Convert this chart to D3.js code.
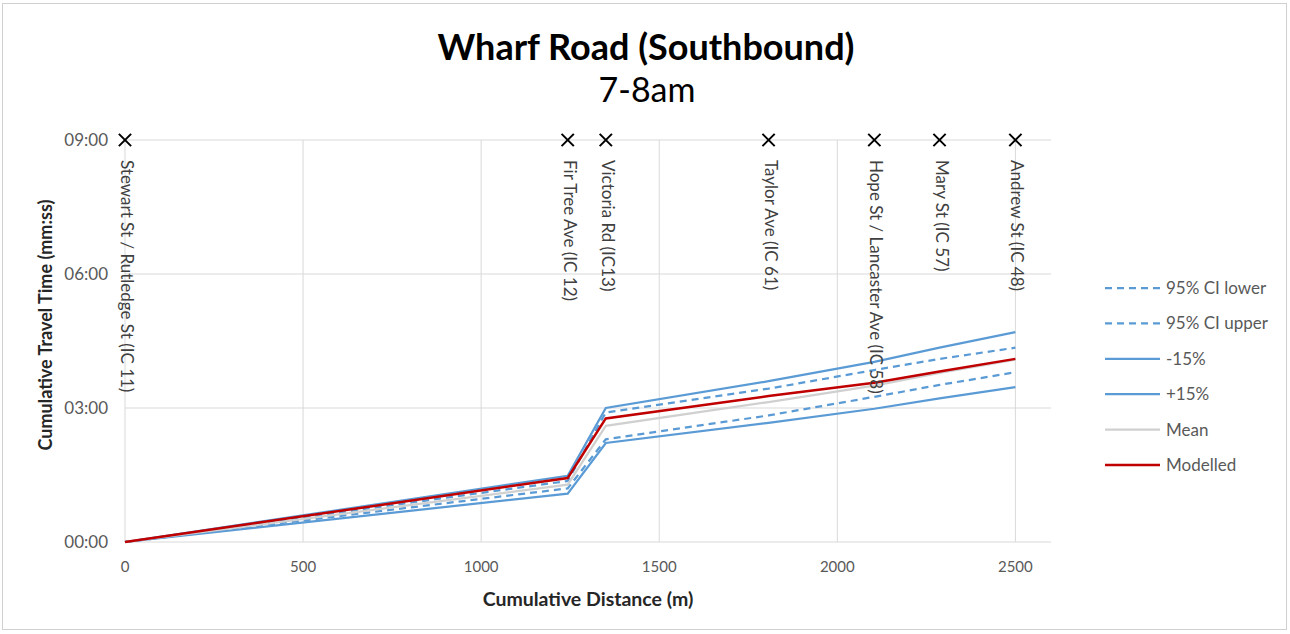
<!DOCTYPE html>
<html>
<head>
    <title>Wharf Road (Southbound) 7-8am</title>
    <script src="https://d3js.org/d3.v7.min.js"></script>
    <style>
        body { margin: 0; background: #fff; }
        svg text { font-family: Lato, "Open Sans", sans-serif; }
        .grid line { stroke: #d9d9d9; stroke-width: 1; }
        .tick-label { fill: #595959; }
        .axis-title { fill: #262626; font-weight: bold; }
        .junction { fill: #404040; font-size: 17px; }
        .legend text { fill: #595959; font-size: 17px; }
    </style>
</head>
<body>
<div id="chart"></div>
<script>
    // chart data (times in seconds)
    const junctions = [
        "Stewart St / Rutledge St (IC 11)",
        "Fir Tree Ave (IC 12)",
        "Victoria Rd (IC13)",
        "Taylor Ave (IC 61)",
        "Hope St / Lancaster Ave (IC 58)",
        "Mary St (IC 57)",
        "Andrew St (IC 48)"
    ];
    const distance = [0, 1243, 1350, 1807, 2104, 2287, 2500];
    const ciLower  = [0, 72, 138, 170, 195, 211, 228];
    const ciUpper  = [0, 82, 174, 206, 231, 246, 261];
    const minus15  = [0, 65, 133, 160, 179, 193, 208];
    const plus15   = [0, 89, 180, 216, 242, 261, 282];
    const mean     = [0, 77, 156, 188, 210, 227, 245];
    const modelled = [0, 86, 166, 196, 214, 229, 246];

    const xTicks = [0, 500, 1000, 1500, 2000, 2500];
    const yTicks = [0, 180, 360, 540];

    const series = [
        { name: "95% CI lower", values: ciLower, color: "#5b9bd5", dash: "7,5", width: 2.25 },
        { name: "95% CI upper", values: ciUpper, color: "#5b9bd5", dash: "7,5", width: 2.25 },
        { name: "-15%", values: minus15, color: "#5b9bd5", dash: null, width: 2.25 },
        { name: "+15%", values: plus15, color: "#5b9bd5", dash: null, width: 2.25 },
        { name: "Mean", values: mean, color: "#d0d0d0", dash: null, width: 2.25 },
        { name: "Modelled", values: modelled, color: "#c00000", dash: null, width: 2.5 }
    ];

    const width = 1290, height = 634;
    const svg = d3.select("#chart").append("svg")
        .attr("width", width)
        .attr("height", height);

    // outer frame
    svg.append("rect")
        .attr("x", 2.5).attr("y", 3.5)
        .attr("width", 1284).attr("height", 626)
        .attr("fill", "#fff")
        .attr("stroke", "#d0d0d0");

    const x = d3.scaleLinear().domain([0, 2600]).range([125, 1051]);
    const y = d3.scaleLinear().domain([0, 540]).range([542, 140]);

    const fmt = s => {
        const m = Math.floor(s / 60), sec = s % 60;
        return String(m).padStart(2, "0") + ":" + String(sec).padStart(2, "0");
    };

    // gridlines
    const grid = svg.append("g").attr("class", "grid");
    grid.selectAll(".v").data(xTicks).join("line")
        .attr("x1", d => x(d)).attr("x2", d => x(d))
        .attr("y1", y(540)).attr("y2", y(0));
    grid.selectAll(".h").data(yTicks).join("line")
        .attr("x1", x(0)).attr("x2", x(2600))
        .attr("y1", d => y(d)).attr("y2", d => y(d));

    // tick labels
    svg.selectAll(".xt").data(xTicks).join("text")
        .attr("class", "tick-label")
        .attr("font-size", 15)
        .attr("x", d => x(d)).attr("y", 572)
        .attr("text-anchor", "middle")
        .text(d => d);
    svg.selectAll(".yt").data(yTicks).join("text")
        .attr("class", "tick-label")
        .attr("font-size", 17)
        .attr("x", 108).attr("y", d => y(d) + 6)
        .attr("text-anchor", "end")
        .text(fmt);

    // axis titles
    svg.append("text").attr("class", "axis-title")
        .attr("font-size", 19.5)
        .attr("x", 588).attr("y", 606)
        .attr("text-anchor", "middle")
        .text("Cumulative Distance (m)");
    svg.append("text").attr("class", "axis-title")
        .attr("font-size", 18)
        .attr("transform", "translate(52,325) rotate(-90)")
        .attr("text-anchor", "middle")
        .text("Cumulative Travel Time (mm:ss)");

    // title
    svg.append("text")
        .attr("x", 646).attr("y", 60)
        .attr("text-anchor", "middle")
        .attr("font-size", 36).attr("font-weight", "bold")
        .attr("fill", "#000")
        .text("Wharf Road (Southbound)");
    svg.append("text")
        .attr("x", 647).attr("y", 102)
        .attr("text-anchor", "middle")
        .attr("font-size", 34)
        .attr("fill", "#000")
        .text("7-8am");

    // series lines
    const line = d3.line()
        .x((d, i) => x(distance[i]))
        .y(d => y(d));

    svg.selectAll(".series").data(series).join("path")
        .attr("class", "series")
        .attr("fill", "none")
        .attr("stroke", d => d.color)
        .attr("stroke-width", d => d.width)
        .attr("stroke-dasharray", d => d.dash)
        .attr("d", d => line(d.values));

    // junction markers and labels
    const marks = svg.append("g");
    marks.selectAll("path").data(distance).join("path")
        .attr("transform", d => `translate(${x(d)},${y(540)})`)
        .attr("d", d3.symbol(d3.symbolX, 100))
        .attr("stroke", "#000")
        .attr("stroke-width", 2)
        .attr("fill", "none");
    marks.selectAll("text").data(distance).join("text")
        .attr("class", "junction")
        .attr("transform", d => `translate(${x(d) - 4},${y(540) + 20}) rotate(90)`)
        .text((d, i) => junctions[i]);

    // legend
    const legend = svg.append("g").attr("class", "legend");
    const item = legend.selectAll("g").data(series).join("g")
        .attr("transform", (d, i) => `translate(1105,${288 + i * 35.4})`);
    item.append("line")
        .attr("x1", 0).attr("x2", 55)
        .attr("stroke", d => d.color)
        .attr("stroke-width", d => d.width)
        .attr("stroke-dasharray", d => d.dash);
    item.append("text")
        .attr("x", 61).attr("y", 6)
        .text(d => d.name);
</script>
</body>
</html>
